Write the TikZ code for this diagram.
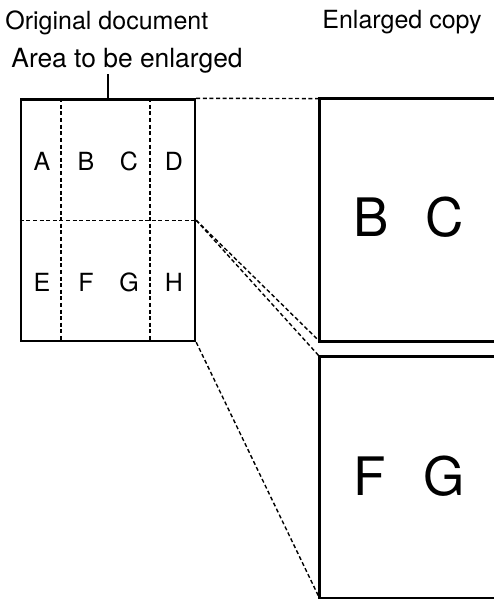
\documentclass[tikz,border=0pt]{standalone}
\usepackage{fontspec}
\setmainfont{TeX Gyre Heros}
\usepackage{tikz}
\usetikzlibrary{positioning, calc}

\begin{document}
\begin{tikzpicture}[x=0.5pt, y=-0.5pt,
    docbox/.style={draw, line width=1.2pt, rectangle, inner sep=0pt},
    cutline/.style={line width=0.7pt, dash pattern=on 2pt off 1.3pt},
    caption/.style={font=\fontsize{12.5}{15}\selectfont, anchor=base west, inner sep=0pt},
    smallletter/.style={font=\fontsize{12.5}{15}\selectfont, inner sep=0pt},
    bigletter/.style={font=\fontsize{26.5}{30}\selectfont, inner sep=0pt}]
  \useasboundingbox (0,0) rectangle (493,599);

  % captions
  \node[caption] (origtitle) at (5,30) {Original document};
  \node[caption] (copytitle) at (322,29) {Enlarged copy};
  \node[caption, font=\fontsize{13.2}{15}\selectfont] (area) at (11,68) {Area to be enlarged};

  % original document
  \node[docbox, minimum width=87pt, minimum height=120.75pt] (orig) at (108,220.25) {};
  \draw[cutline] (orig.west) -- (orig.east);
  \draw[cutline] (orig.north west) ++(41,0) coordinate (c1) -- (c1 |- orig.south);
  \draw[cutline] (orig.north west) ++(130,0) coordinate (c2) -- (c2 |- orig.south);
  \draw[line width=0.8pt] (orig.north) -- (orig.north |- area.south);

  \node[smallletter] (la) at (42,161) {A};
  \node[smallletter] (lb) at (86,161) {B};
  \node[smallletter] (lc) at (129,161) {C};
  \node[smallletter] (ld) at (174,161) {D};
  \node[smallletter] (le) at (42,282) {E};
  \node[smallletter] (lf) at (86,282) {F};
  \node[smallletter] (lg) at (129,282) {G};
  \node[smallletter] (lh) at (174,282) {H};

  % enlarged copies (cut off at the right)
  \node[minimum width=95pt, minimum height=121pt, inner sep=0pt] (copyBC) at (415,220) {};
  \node[minimum width=95pt, minimum height=120.5pt, inner sep=0pt] (copyFG) at (415,477.5) {};
  \draw[line width=1.2pt] (copyBC.north east) -- (copyBC.north west) -- (copyBC.south west) -- (copyBC.south east);
  \draw[line width=1.2pt] (copyFG.north east) -- (copyFG.north west) -- (copyFG.south west) -- (copyFG.south east);

  \node[bigletter] (bb) at (371,217) {B};
  \node[bigletter] (bc) at (445,217) {C};
  \node[bigletter] (bf) at (370,476) {F};
  \node[bigletter] (bg) at (444,476) {G};

  % projection lines
  \draw[cutline] (orig.north east) -- (copyBC.north west);
  \draw[cutline] (orig.east) -- (copyBC.south west);
  \draw[cutline] (orig.east) -- (copyFG.north west);
  \draw[cutline] (orig.south east) -- (copyFG.south west);
\end{tikzpicture}
\end{document}
